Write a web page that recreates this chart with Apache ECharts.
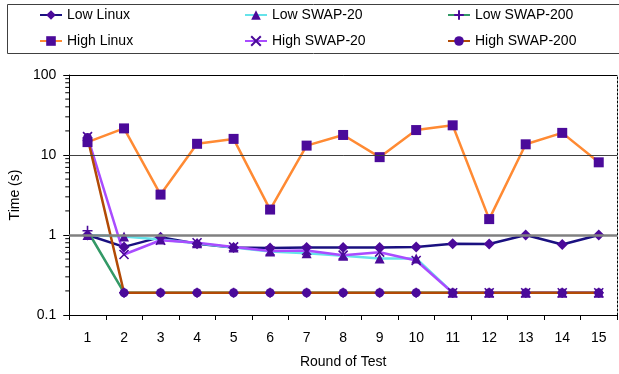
<!DOCTYPE html>
<html><head><meta charset="utf-8">
<script src="https://cdn.jsdelivr.net/npm/echarts@6/dist/echarts.min.js"></script>
<style>html,body{margin:0;padding:0;background:#fff}#c{width:619px;height:374px}</style>
</head><body><div id="c"></div>
<script>
const categories = ['1','2','3','4','5','6','7','8','9','10','11','12','13','14','15'];
const lowLinux   = [1.0, 0.71, 0.94, 0.78, 0.70, 0.69, 0.70, 0.70, 0.70, 0.71, 0.78, 0.77, 1.0, 0.76, 1.0];
const lowSwap20  = [1.0, 0.96, 0.88, 0.79, 0.70, 0.62, 0.59, 0.55, 0.51, 0.51, 0.19, 0.19, 0.19, 0.19, 0.19];
const lowSwap200 = [1.13, 0.19, 0.19, 0.19, 0.19, 0.19, 0.19, 0.19, 0.19, 0.19, 0.19, 0.19, 0.19, 0.19, 0.19];
const highLinux  = [14.5, 21.5, 3.2, 13.8, 15.9, 2.08, 13.1, 17.8, 9.4, 20.5, 23.5, 1.58, 13.6, 18.9, 8.1];
const highSwap20 = [17, 0.57, 0.86, 0.80, 0.71, 0.63, 0.64, 0.56, 0.61, 0.48, 0.19, 0.19, 0.19, 0.19, 0.19];
const highSwap200= [16.5, 0.19, 0.19, 0.19, 0.19, 0.19, 0.19, 0.19, 0.19, 0.19, 0.19, 0.19, 0.19, 0.19, 0.19];
const yMin = 0.1, yMax = 100;
const minorTickValues = [0.2,0.3,0.4,0.5,0.6,0.7,0.8,0.9,2,3,4,5,6,7,8,9,20,30,40,50,60,70,80,90];
const gridLineValues = [1, 10];

const FONT = 'Liberation Sans';
const MK = '#4b0a9a';
const crossPath = 'path://M0,0L10,10M10,0L0,10';
const plusPath = 'path://M5,0L5,10M0,5L10,5';

function lineSeries(name, data, color, symbol, size, stroke) {
  return {
    name, type: 'line', data, symbol, symbolSize: size,
    lineStyle: { color, width: 2.5 },
    itemStyle: stroke ? { color: 'rgba(0,0,0,0)', borderColor: MK, borderWidth: 1.6 } : { color: MK },
    emphasis: { disabled: true }, z: 3
  };
}

const chart = echarts.init(document.getElementById('c'), null, { renderer: 'canvas' });
const legendCommon = {
  orient: 'vertical', itemWidth: 22, itemHeight: 12, itemGap: 12, padding: 0,
  textStyle: { fontFamily: FONT, fontSize: 14, color: '#000', lineHeight: 12 },
  selectedMode: false, top: 8
};
chart.setOption({
  animation: false,
  textStyle: { fontFamily: FONT },
  graphic: [{ type: 'rect', left: 5, top: 2, shape: { width: 612, height: 49 },
    style: { fill: 'none', stroke: '#404040', lineWidth: 1 }, silent: true }],
  legend: [
    Object.assign({}, legendCommon, { left: 39, data: ['Low Linux', 'High Linux'] }),
    Object.assign({}, legendCommon, { left: 244, data: ['Low SWAP-20', 'High SWAP-20'] }),
    Object.assign({}, legendCommon, { left: 447, data: ['Low SWAP-200', 'High SWAP-200'] })
  ],
  grid: { left: 64, right: 2, top: 75, bottom: 53 },
  xAxis: [{
    type: 'category', data: categories, boundaryGap: true,
    name: 'Round of Test', nameLocation: 'middle', nameGap: 40,
    nameTextStyle: { fontFamily: FONT, fontSize: 14, color: '#000' },
    axisLine: { lineStyle: { color: '#000', width: 1 } },
    axisTick: { show: true, length: 5, lineStyle: { color: '#000' } },
    axisLabel: { fontFamily: FONT, fontSize: 14, color: '#000', margin: 16 },
    splitLine: { show: false }
  }, {
    type: 'category', data: categories, position: 'top',
    axisLine: { lineStyle: { color: '#000', width: 1 } },
    axisTick: { show: false }, axisLabel: { show: false }, splitLine: { show: false }
  }],
  yAxis: [{
    type: 'log', logBase: 10, min: yMin, max: yMax,
    name: 'Time (s)', nameLocation: 'middle', nameGap: 46,
    nameTextStyle: { fontFamily: FONT, fontSize: 14, color: '#000' },
    axisLine: { show: true, lineStyle: { color: '#000', width: 1 } },
    axisTick: { show: true, length: 6, lineStyle: { color: '#000' } },
    axisLabel: { fontFamily: FONT, fontSize: 14, color: '#000', margin: 13,
      formatter: v => String(Math.round(v * 10) / 10) },
    splitLine: { show: false }
  }, {
    type: 'log', logBase: 10, min: yMin, max: yMax, position: 'right',
    axisLine: { show: true, lineStyle: { color: '#000', width: 1, type: [2, 2] } },
    axisTick: { show: false }, axisLabel: { show: false }, splitLine: { show: false }
  }],
  series: [
    {
      type: 'line', data: [], silent: true, z: 1,
      markLine: {
        silent: true, symbol: 'none', label: { show: false }, animation: false,
        data: [
          { yAxis: gridLineValues[0], lineStyle: { color: '#808080', width: 2.5, type: 'solid' } },
          { yAxis: gridLineValues[1], lineStyle: { color: '#404040', width: 1, type: 'solid' } }
        ]
      }
    },
    {
      type: 'custom', silent: true, clip: false, z: 2,
      data: minorTickValues.map(v => [0, v]),
      renderItem: function (params, api) {
        const p = api.coord([0, api.value(1)]);
        const x0 = params.coordSys.x;
        return { type: 'line', shape: { x1: x0 - 4, y1: p[1], x2: x0, y2: p[1] },
          style: { stroke: '#000', lineWidth: 1 } };
      }
    },
    lineSeries('Low Linux', lowLinux, '#1a1080', 'diamond', 11, false),
    lineSeries('Low SWAP-20', lowSwap20, '#66e3ea', 'triangle', 10, false),
    lineSeries('Low SWAP-200', lowSwap200, '#339966', plusPath, 10, true),
    lineSeries('High Linux', highLinux, '#ff8a33', 'rect', 10, false),
    lineSeries('High SWAP-20', highSwap20, '#a94cff', crossPath, 9, true),
    lineSeries('High SWAP-200', highSwap200, '#b24a06', 'circle', 9, false)
  ]
});
</script></body></html>
